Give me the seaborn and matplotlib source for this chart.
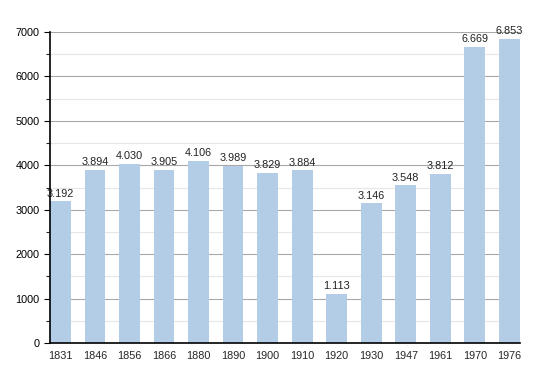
import matplotlib
matplotlib.use("Agg")
import matplotlib.pyplot as plt
import seaborn as sns
import pandas as pd
from matplotlib.ticker import MultipleLocator

years = ["1831", "1846", "1856", "1866", "1880", "1890", "1900",
         "1910", "1920", "1930", "1947", "1961", "1970", "1976"]
population = [3192, 3894, 4030, 3905, 4106, 3989, 3829,
              3884, 1113, 3146, 3548, 3812, 6669, 6853]

df = pd.DataFrame({"year": years, "pop": population})

sns.set_style("white")
plt.rcParams['font.family'] = ['Liberation Sans', 'DejaVu Sans']

fig = plt.figure(figsize=(5.5, 3.73), dpi=100)
ax = fig.add_axes([0.0909, 0.0804, 0.8541, 0.8336])

# bars, no edge so they sit flush like the original
sns.barplot(data=df, x="year", y="pop", color="#b3cde6", saturation=1,
            width=0.6, linewidth=0, edgecolor="none", ax=ax, zorder=2)

for i, v in enumerate(population):
    label = f"{v:,}".replace(",", ".")
    ax.text(i, v + 60, label, ha="center", va="bottom", fontsize=7.8, color="#222222", zorder=4)

ax.set_xlim(-0.3, 13.3)
ax.set_ylim(0, 7000)
ax.yaxis.set_major_locator(MultipleLocator(1000))
ax.yaxis.set_minor_locator(MultipleLocator(500))
ax.grid(axis="y", which="major", color="#a8a8a8", linewidth=0.8, zorder=0)
ax.grid(axis="y", which="minor", color="#e6e6e6", linewidth=0.8, zorder=0)
ax.set_axisbelow(True)

for s in ["top", "right"]:
    ax.spines[s].set_visible(False)
for s in ["left", "bottom"]:
    ax.spines[s].set_color("black")
    ax.spines[s].set_linewidth(1.2)
    ax.spines[s].set_zorder(5)

ax.tick_params(axis="y", which="major", left=True, length=4, width=0.8, labelsize=7.8, colors="black")
ax.tick_params(axis="y", which="minor", left=True, length=3, width=0.8)
ax.tick_params(axis="x", bottom=False, labelsize=7.8, pad=2)
ax.set_xlabel("")
ax.set_ylabel("")

plt.savefig("out.png", dpi=100)
